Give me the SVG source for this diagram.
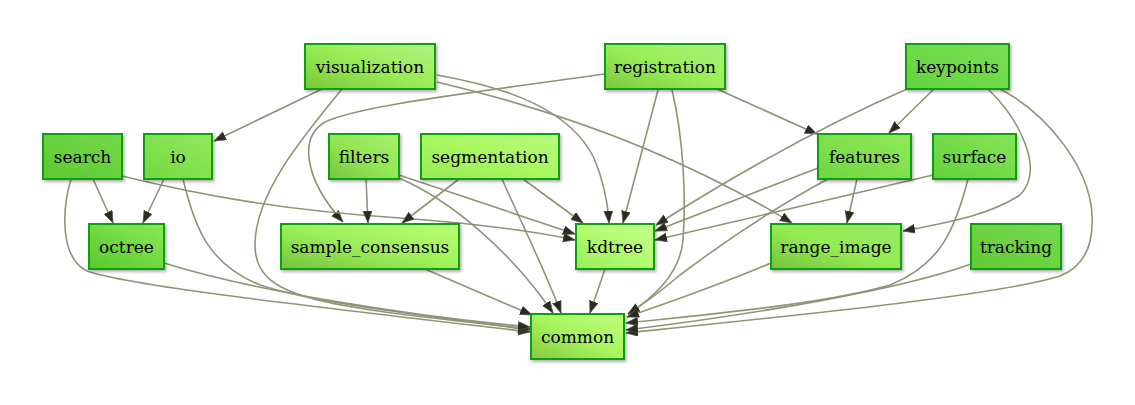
<svg xmlns="http://www.w3.org/2000/svg" width="1135" height="405" viewBox="0 0 1135 405">
<defs>
<style>
.n rect{stroke:#0a9f0a;stroke-width:2;filter:url(#sh)}
.n text{font-family:"DejaVu Serif","Liberation Serif",serif;font-size:17px;fill:#000;text-anchor:middle}
#edges path{fill:none;stroke:#929277;stroke-width:1.6;marker-end:url(#ah)}
</style>
<filter id="sh" x="-10%" y="-10%" width="125%" height="135%">
<feDropShadow dx="1.5" dy="2" stdDeviation="1.4" flood-color="#000" flood-opacity="0.3"/>
</filter>
<marker id="ah" markerUnits="userSpaceOnUse" markerWidth="14" markerHeight="11" refX="12" refY="4.5" orient="auto">
<path d="M0,0 L12,4.5 L0,9 z" fill="#2a2a20" stroke="#55554a" stroke-width="0.7"/>
</marker>
<linearGradient id="g1" x1="0" y1="1" x2="1" y2="0"><stop offset="0" stop-color="#78c83c"/><stop offset="0.5" stop-color="#99ec55"/><stop offset="1" stop-color="#b2f282"/></linearGradient>
<linearGradient id="g2" x1="0" y1="1" x2="1" y2="0"><stop offset="0" stop-color="#7ac844"/><stop offset="0.5" stop-color="#99ee55"/><stop offset="1" stop-color="#aaef7a"/></linearGradient>
<linearGradient id="g3" x1="0" y1="1" x2="1" y2="0"><stop offset="0" stop-color="#62d23e"/><stop offset="0.5" stop-color="#6fdb48"/><stop offset="1" stop-color="#7bde58"/></linearGradient>
<linearGradient id="g4" x1="0" y1="1" x2="1" y2="0"><stop offset="0" stop-color="#5cc832"/><stop offset="1" stop-color="#76da48"/></linearGradient>
<linearGradient id="g5" x1="0" y1="1" x2="1" y2="0"><stop offset="0" stop-color="#72d840"/><stop offset="1" stop-color="#92ea5e"/></linearGradient>
<linearGradient id="g6" x1="0" y1="1" x2="1" y2="0"><stop offset="0" stop-color="#75c840"/><stop offset="0.5" stop-color="#93e654"/><stop offset="1" stop-color="#a8f06c"/></linearGradient>
<linearGradient id="g7" x1="0" y1="1" x2="1" y2="0"><stop offset="0" stop-color="#96ea55"/><stop offset="0.5" stop-color="#a8f860"/><stop offset="1" stop-color="#b8fb7e"/></linearGradient>
<linearGradient id="g8" x1="0" y1="1" x2="1" y2="0"><stop offset="0" stop-color="#70d640"/><stop offset="1" stop-color="#90ea58"/></linearGradient>
<linearGradient id="g9" x1="0" y1="1" x2="1" y2="0"><stop offset="0" stop-color="#62d23c"/><stop offset="1" stop-color="#86e456"/></linearGradient>
<linearGradient id="g10" x1="0" y1="1" x2="1" y2="0"><stop offset="0" stop-color="#5ac82e"/><stop offset="1" stop-color="#8aea56"/></linearGradient>
<linearGradient id="g11" x1="0" y1="1" x2="1" y2="0"><stop offset="0" stop-color="#74c43e"/><stop offset="0.5" stop-color="#9cf05a"/><stop offset="1" stop-color="#bcff76"/></linearGradient>
<linearGradient id="g12" x1="0" y1="1" x2="1" y2="0"><stop offset="0" stop-color="#9aea5c"/><stop offset="0.5" stop-color="#b2fb70"/><stop offset="1" stop-color="#c4ff8c"/></linearGradient>
<linearGradient id="g13" x1="0" y1="1" x2="1" y2="0"><stop offset="0" stop-color="#74c43e"/><stop offset="0.5" stop-color="#94ec52"/><stop offset="1" stop-color="#98e866"/></linearGradient>
<linearGradient id="g14" x1="0" y1="1" x2="1" y2="0"><stop offset="0" stop-color="#62ca32"/><stop offset="1" stop-color="#76db52"/></linearGradient>
<linearGradient id="g15" x1="0" y1="1" x2="1" y2="0"><stop offset="0" stop-color="#86c840"/><stop offset="0.5" stop-color="#a8f460"/><stop offset="1" stop-color="#beff7c"/></linearGradient>
</defs>
<rect width="1135" height="405" fill="#fff"/>
<g id="edges">
<path d="M322,89 L214,141"/>
<path d="M342,89 C300,140 255,195 255,245 C255,300 320,306 530,329"/>
<path d="M437,75 C510,88 570,110 594,158 C604,182 608,205 609,223"/>
<path d="M437,82 Q640,130 792,223"/>
<path d="M604,74 C480,92 360,105 325,122 C298,138 305,180 343,222"/>
<path d="M658,90 L623,223"/>
<path d="M672,90 C684,140 686,200 683,240 C680,275 650,300 628,314"/>
<path d="M717,89 L817,134"/>
<path d="M907,89 Q790,140 656,225"/>
<path d="M934,89 L889,133"/>
<path d="M988,89 C1020,120 1045,170 1020,195 C990,215 950,222 903,231"/>
<path d="M1000,89 C1050,115 1090,170 1092,215 C1094,250 1080,268 1060,276 C1000,295 800,315 626,333"/>
<path d="M93,179 L113,223"/>
<path d="M122,176 C200,195 280,210 400,218 C480,224 530,230 575,240"/>
<path d="M71,179 C62,210 60,255 85,270 C120,285 300,305 530,332"/>
<path d="M164,179 L143,223"/>
<path d="M183,179 C195,230 210,265 260,285 C320,305 450,318 530,330"/>
<path d="M366,179 L368,223"/>
<path d="M399,175 L575,234"/>
<path d="M399,178 C450,200 510,250 553,313"/>
<path d="M459,179 L402,223"/>
<path d="M523,179 L583,223"/>
<path d="M502,179 C520,220 545,270 561,313"/>
<path d="M857,179 L847,223"/>
<path d="M818,168 L655,231"/>
<path d="M828,179 C770,210 720,245 680,275 C660,292 645,303 628,314"/>
<path d="M933,175 C850,195 720,225 655,240"/>
<path d="M968,179 C955,230 940,265 890,285 C820,305 700,315 626,323"/>
<path d="M164,263 C250,290 400,315 530,327"/>
<path d="M425,269 L532,315"/>
<path d="M605,269 L590,313"/>
<path d="M771,263 C720,285 670,302 627,317"/>
<path d="M971,264 C900,290 750,315 626,330"/>
</g>
<g id="visualization" class="n"><rect x="305" y="44" width="130" height="45" fill="url(#g1)"/><text x="370" y="72.5">visualization</text></g>
<g id="registration" class="n"><rect x="605" y="44" width="120" height="45" fill="url(#g2)"/><text x="665" y="72.5">registration</text></g>
<g id="keypoints" class="n"><rect x="906" y="44" width="103" height="45" fill="url(#g3)"/><text x="957.5" y="72.5">keypoints</text></g>
<g id="search" class="n"><rect x="43" y="134" width="79" height="45" fill="url(#g4)"/><text x="82.5" y="162.5">search</text></g>
<g id="io" class="n"><rect x="144" y="134" width="68" height="45" fill="url(#g5)"/><text x="178" y="162.5">io</text></g>
<g id="filters" class="n"><rect x="329" y="134" width="70" height="45" fill="url(#g6)"/><text x="364" y="162.5">filters</text></g>
<g id="segmentation" class="n"><rect x="421" y="134" width="138" height="45" fill="url(#g7)"/><text x="490" y="162.5">segmentation</text></g>
<g id="features" class="n"><rect x="818" y="134" width="93" height="45" fill="url(#g8)"/><text x="864.5" y="162.5">features</text></g>
<g id="surface" class="n"><rect x="933" y="134" width="83" height="45" fill="url(#g9)"/><text x="974.5" y="162.5">surface</text></g>
<g id="octree" class="n"><rect x="89" y="224" width="75" height="45" fill="url(#g10)"/><text x="126.5" y="252.5">octree</text></g>
<g id="sample_consensus" class="n"><rect x="281" y="224" width="178" height="45" fill="url(#g11)"/><text x="370" y="252.5">sample_consensus</text></g>
<g id="kdtree" class="n"><rect x="576" y="224" width="78" height="45" fill="url(#g12)"/><text x="615" y="252.5">kdtree</text></g>
<g id="range_image" class="n"><rect x="771" y="224" width="130" height="45" fill="url(#g13)"/><text x="836" y="252.5">range_image</text></g>
<g id="tracking" class="n"><rect x="971" y="224" width="90" height="45" fill="url(#g14)"/><text x="1016" y="252.5">tracking</text></g>
<g id="common" class="n"><rect x="531" y="314" width="93" height="45" fill="url(#g15)"/><text x="577.5" y="342.5">common</text></g>
</svg>
